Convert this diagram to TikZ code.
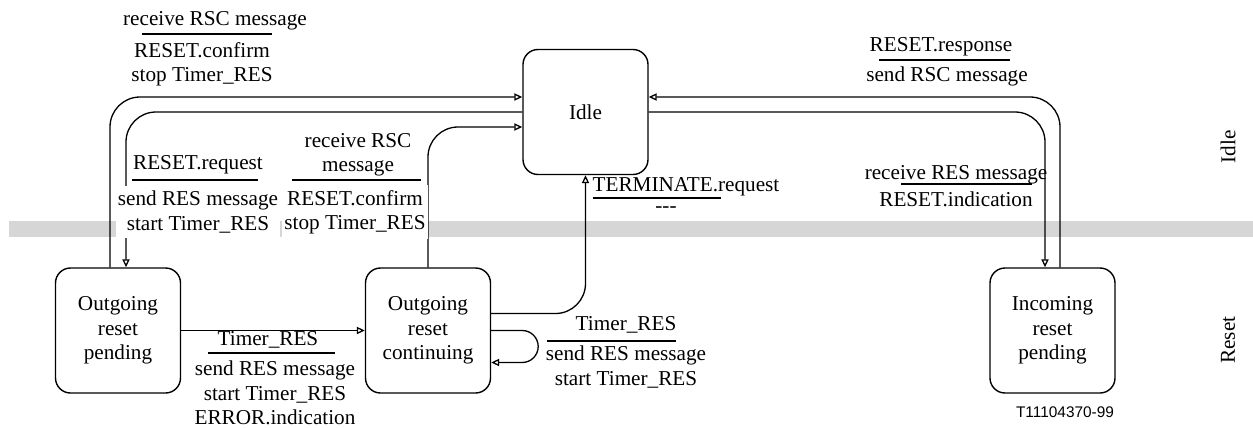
\documentclass[tikz,border=0pt]{standalone}
\usepackage{fontspec}
\setmainfont{Liberation Serif}
\newfontfamily\dgsans{Liberation Sans}
\usetikzlibrary{arrows.meta}
\newcommand{\dgfont}{\fontsize{10.6}{12.2}\selectfont}
\begin{document}
\begin{tikzpicture}[x=0.5pt,y=-0.5pt,
  statebox/.style={draw, line width=0.7pt, rounded corners=7.5pt, minimum width=62.5pt, minimum height=62.5pt, inner sep=0pt, align=center, font=\dgfont},
  conn/.style={line width=0.65pt, rounded corners=15pt, -{Triangle[open,length=4pt,width=3.6pt]}},
  lbl/.style={font=\dgfont, align=center, inner sep=0pt},
  wlbl/.style={lbl, fill=white, inner xsep=1pt, inner ysep=2.5pt},
  uline/.style={line width=0.55pt}
]
\useasboundingbox (0,0) rectangle (1253,428);
% band
\fill[gray!32] (9,221) rectangle (1253,237);

% states
\node[statebox] (idle) at (585.5,112) {Idle};
\node[statebox] (pend) at (118,330.5) {Outgoing\\reset\\pending};
\node[statebox] (cont) at (428,330.5) {Outgoing\\reset\\continuing};
\node[statebox] (inc) at (1052.5,330.5) {Incoming\\reset\\pending};

% connectors
\draw[conn] ([xshift=-4pt]pend.north) |- ([yshift=7.5pt]idle.west);
\draw[conn] (idle.west) -| ([xshift=4pt]pend.north);
\draw[conn] (cont.north) |- ([yshift=-7.5pt]idle.west);
\draw[conn] ([yshift=8.5pt]cont.east) -| (idle.south);
\draw[conn, rounded corners=8pt] (cont.east) -- ++(47,0) -- ++(0,32) -- ([yshift=-16pt]cont.east);
\draw[conn] (pend) -- (cont);
\draw[conn] ([xshift=3.75pt]inc.north) |- ([yshift=7.5pt]idle.east);
\draw[conn] (idle.east) -| ([xshift=-3.75pt]inc.north);

% labels
\node[lbl] (l1a) at (215,21) {receive RSC message};
\draw[uline] (142,34) -- (272,34);
\node[lbl] (l1b) at (202,64) {RESET.confirm\\stop Timer\_RES};

\node[lbl] (l2a) at (198,165) {RESET.request};
\draw[uline] (132,180) -- (258,180);
\node[wlbl] (l2b) at (198,212) {send RES message\\start Timer\_RES};

\node[lbl] (l3a) at (358,155) {receive RSC\\message};
\draw[uline] (292,180) -- (421,180);
\node[wlbl] (l3b) at (355,212) {RESET.confirm\\stop Timer\_RES};

\node[lbl] (l4a) at (686,187) {TERMINATE.request};
\draw[uline] (593,198) -- (721,198);
\node[lbl] (l4b) at (666,210) {{-}{-}{-}};

\node[lbl] (l5a) at (941,47) {RESET.response};
\draw[uline] (879,60) -- (1010,60);
\node[lbl] (l5b) at (947,76) {send RSC message};

\node[lbl] (l6a) at (956,175) {receive RES message};
\draw[uline] (901,184) -- (1032,184);
\node[lbl] (l6b) at (956,199) {RESET.indication};

\node[lbl] (l7a) at (268,340) {Timer\_RES};
\draw[uline] (208,353) -- (335,353);
\node[lbl] (l7b) at (275,393) {send RES message\\start Timer\_RES\\ERROR.indication};

\node[lbl] (l8a) at (626,325) {Timer\_RES};
\draw[uline] (547,341) -- (676,341);
\node[lbl] (l8b) at (626,367) {send RES message\\start Timer\_RES};

\node[lbl, rotate=90] (zidle) at (1228,147) {Idle};
\node[lbl, rotate=90] (zreset) at (1228,340) {Reset};
\node[inner sep=0pt, font=\dgsans\fontsize{7.7}{9}\selectfont] (tag) at (1065,412) {T11104370-99};
\end{tikzpicture}
\end{document}
